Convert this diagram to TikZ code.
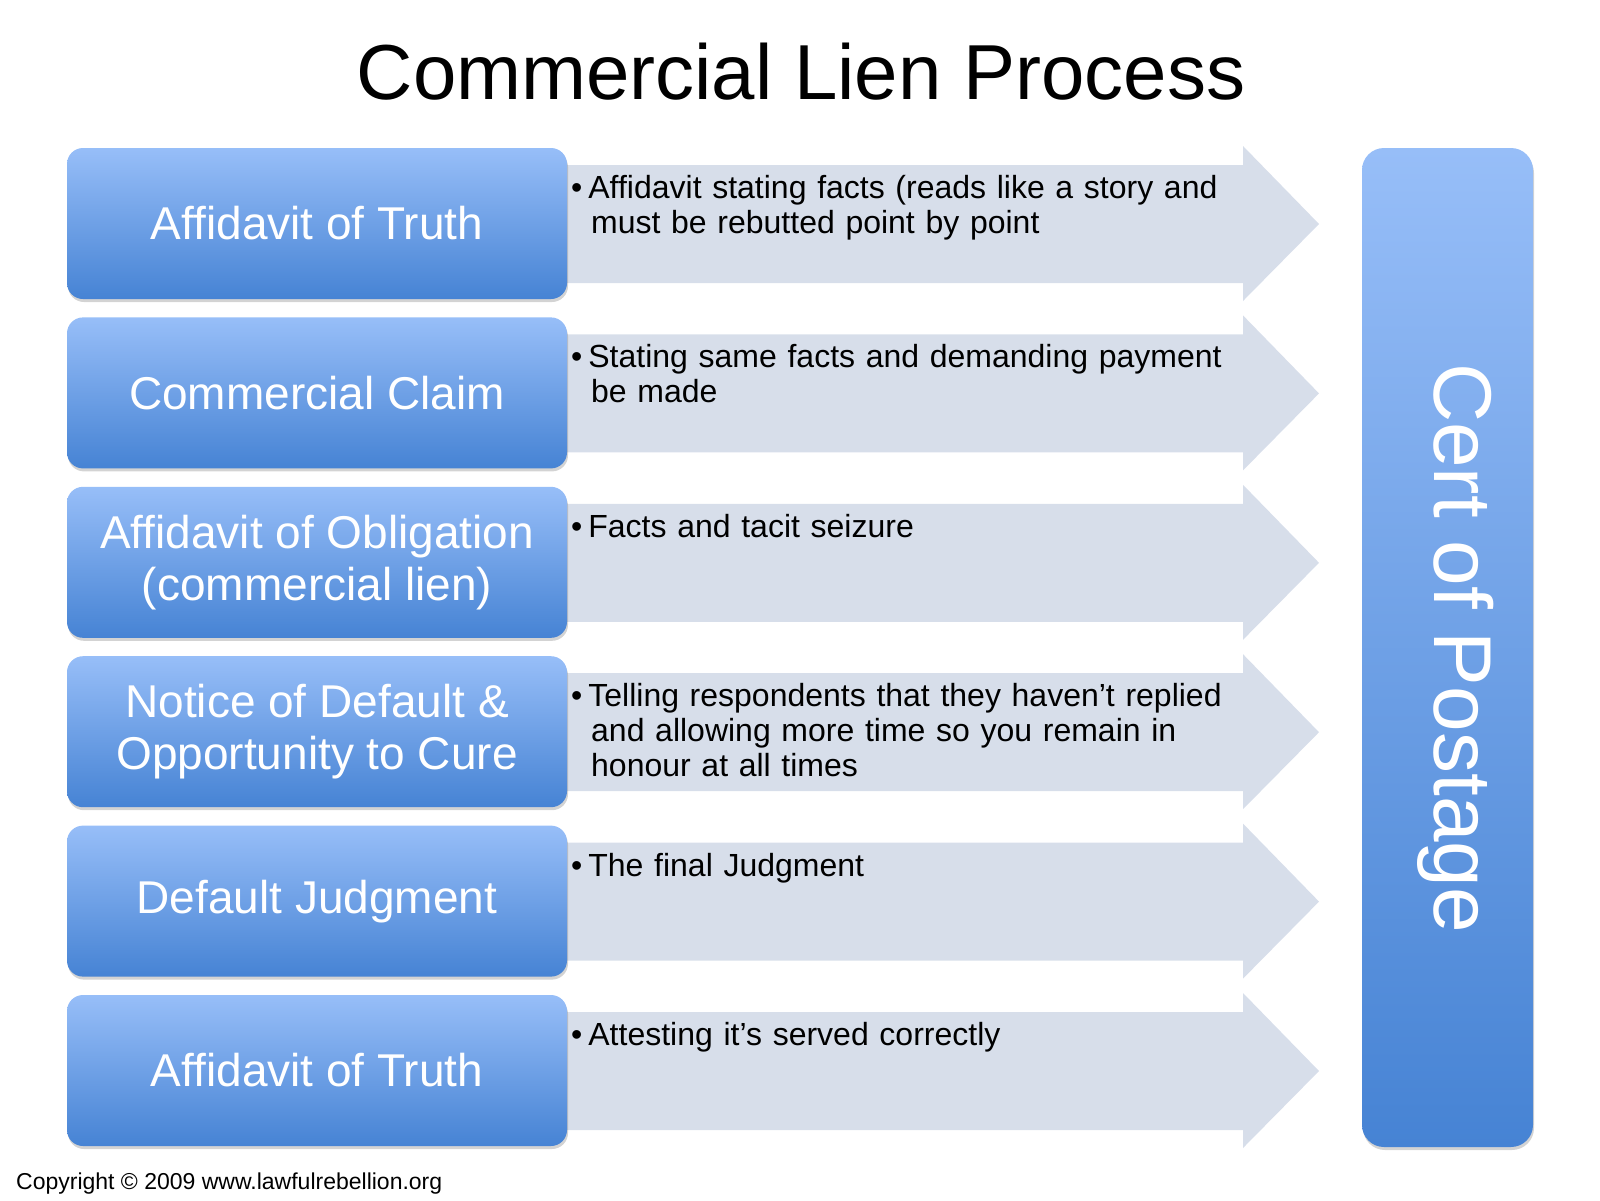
\documentclass[tikz,border=0pt]{standalone}
\usepackage{fontspec}
\setmainfont{Liberation Sans}
\usetikzlibrary{shadows}
\definecolor{btop}{HTML}{97BEF8}
\definecolor{bbot}{HTML}{4683D4}
\definecolor{arr}{HTML}{D7DEEA}
\tikzset{
 lbox/.style={rounded corners=16pt,top color=btop,bottom color=bbot,draw=none,
   drop shadow={shadow xshift=1pt,shadow yshift=-3pt,opacity=0.35},
   minimum width=500pt,minimum height=151pt,text=white,align=center,
   font=\fontsize{46}{52}\selectfont,inner sep=0pt},
 arrowtxt/.style={anchor=north west,align=left,text width=660pt,
   font=\fontsize{32}{35}\selectfont,inner sep=0pt}
}
\begin{document}
\begin{tikzpicture}[x=1pt,y=-1pt]
\useasboundingbox (0,0) rectangle (1600,1200);
\node (title) at (801,72) {\fontsize{78}{80}\selectfont Commercial Lien Process};
\foreach \i/\lt/\rt in {0/{Affidavit of Truth}/{Affidavit stating facts (reads like a story and\\\hspace*{20pt}must be rebutted point by point},
 1/{Commercial Claim}/{Stating same facts and demanding payment\\\hspace*{20pt}be made},
 2/{Affidavit of Obligation\\(commercial lien)}/{Facts and tacit seizure},
 3/{Notice of Default \&\\Opportunity to Cure}/{Telling respondents that they haven’t replied\\\hspace*{20pt}and allowing more time so you remain in\\\hspace*{20pt}honour at all times},
 4/{Default Judgment}/{The final Judgment},
 5/{Affidavit of Truth}/{Attesting it’s served correctly}}{
 \pgfmathsetmacro{\t}{148+169.4*\i}
 \fill[arr] (567,\t+17) -- (1243,\t+17) -- (1243,\t-2) -- (1319,\t+76) -- (1243,\t+153) -- (1243,\t+135) -- (567,\t+135) -- cycle;
 \node[lbox] (b\i) at (317,\t+75.5) {\lt};
 \node[arrowtxt] (t\i) at (571,\t+27) {•\hspace{6pt}\rt};
}
\node[rounded corners=22pt,top color=btop,bottom color=bbot,
   drop shadow={shadow xshift=1pt,shadow yshift=-3pt,opacity=0.35},
   minimum width=171pt,minimum height=999pt,inner sep=0pt] (cert) at (1447.5,647.5) {};
\node[rotate=-90,text=white,font=\fontsize{82}{84}\selectfont] (certt) at (1456,648) {Cert of Postage};
\node[anchor=west,font=\fontsize{23}{25}\selectfont,inner sep=0pt] (copy) at (16,1184) {Copyright © 2009 www.lawfulrebellion.org};
\end{tikzpicture}
\end{document}
